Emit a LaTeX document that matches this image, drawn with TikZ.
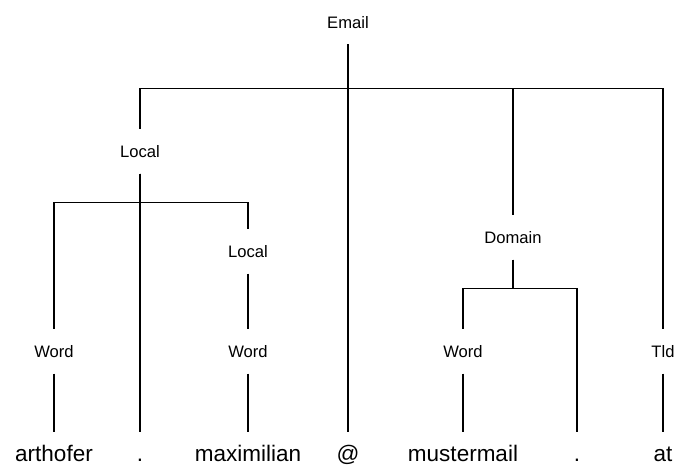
\documentclass[tikz,border=0pt]{standalone}
\usepackage{fontspec}
\setmainfont{Liberation Sans}
\usepackage{tikz}
\usetikzlibrary{positioning}

\begin{document}
\begin{tikzpicture}[
    x=1pt, y=-1pt,
    cat/.style={font=\fontsize{16.6}{19}\selectfont, inner sep=0pt, minimum height=44pt, text height=12pt, text depth=0pt},
    leaf/.style={font=\fontsize{22.5}{26}\selectfont, inner sep=0pt, text height=29pt, text depth=2.5pt},
    branch/.style={line width=1.3pt}
]
\useasboundingbox (0,0) rectangle (675,464);
\node[cat] (email) at (348,22) {Email};
\node[cat] (local1) at (140,151.5) {Local};
\node[cat] (local2) at (248,251.5) {Local};
\node[cat] (domain) at (513,237.5) {Domain};
\node[cat] (word1) at (54,351.5) {Word};
\node[cat] (word2) at (248,351.5) {Word};
\node[cat] (word3) at (463,351.5) {Word};
\node[cat] (tld) at (663,351.5) {Tld};
\node[leaf, anchor=north] (arthofer) at (54,432) {arthofer};
\node[leaf, anchor=north] (dot1) at (140,432) {.};
\node[leaf, anchor=north] (maximilian) at (248,432) {maximilian};
\node[leaf, anchor=north] (atsign) at (348,432) {@};
\node[leaf, anchor=north] (mustermail) at (463,432) {mustermail};
\node[leaf, anchor=north] (dot2) at (577,432) {.};
\node[leaf, anchor=north] (at) at (663,432) {at};
\draw[branch] (email.south) -- ++(0,44) -| (local1.north);
\draw[branch] (email.south) -- (atsign.north);
\draw[branch] (email.south) -- ++(0,44) -| (domain.north);
\draw[branch] (email.south) -- ++(0,44) -| (tld.north);
\draw[branch] (local1.south) -- ++(0,28.5) -| (word1.north);
\draw[branch] (local1.south) -- (dot1.north);
\draw[branch] (local1.south) -- ++(0,28.5) -| (local2.north);
\draw[branch] (local2.south) -- (word2.north);
\draw[branch] (domain.south) -- ++(0,28.5) -| (word3.north);
\draw[branch] (domain.south) -- ++(0,28.5) -| (dot2.north);
\draw[branch] (word1.south) -- (arthofer.north);
\draw[branch] (word2.south) -- (maximilian.north);
\draw[branch] (word3.south) -- (mustermail.north);
\draw[branch] (tld.south) -- (at.north);
\end{tikzpicture}
\end{document}
